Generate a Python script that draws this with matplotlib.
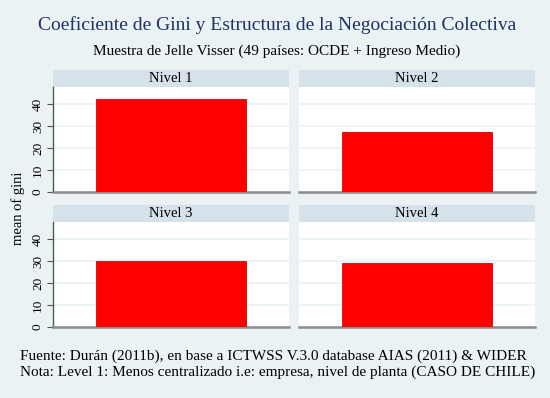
import matplotlib
matplotlib.use("Agg")
import matplotlib.pyplot as plt

# ---- data ----
panels = ["Nivel 1", "Nivel 2", "Nivel 3", "Nivel 4"]
gini_mean = [42.3, 27.3, 30.2, 29.0]
yticks = [0, 10, 20, 30, 40]

title = "Coeficiente de Gini y Estructura de la Negociación Colectiva"
subtitle = "Muestra de Jelle Visser (49 países: OCDE + Ingreso Medio)"
ylabel = "mean of gini"
notes = ["Fuente: Durán (2011b), en base a ICTWSS V.3.0 database AIAS (2011) & WIDER",
         "Nota: Level 1: Menos centralizado i.e: empresa, nivel de planta (CASO DE CHILE)"]

W, H = 550, 398
BG = "#EAF2F3"
STRIP = "#D6E2E9"
plt.rcParams["font.family"] = ["Liberation Serif", "DejaVu Serif"]

fig = plt.figure(figsize=(W / 100, H / 100), dpi=100, facecolor=BG)

def rect(x0, y0, x1, y1):
    # pixel coords (top-left origin) -> figure fraction
    return [x0 / W, 1 - y1 / H, (x1 - x0) / W, (y1 - y0) / H]

cols = [(53, 289), (299, 535)]
rows = [(70, 87.3, 191.7), (205, 222.3, 326.7)]

for i, (name, val) in enumerate(zip(panels, gini_mean)):
    r, c = divmod(i, 2)
    x0, x1 = cols[c]
    hy0, py0, py1 = rows[r]
    # header strip
    hax = fig.add_axes(rect(x0, hy0, x1, py0))
    hax.set_facecolor(STRIP)
    hax.set_xticks([]); hax.set_yticks([])
    for s in hax.spines.values():
        s.set_visible(False)
    hax.text(0.5, 0.5, name, ha="center", va="center", fontsize=10.5,
             transform=hax.transAxes, color="black")
    # plot area
    ax = fig.add_axes(rect(x0, py0, x1, py1))
    ax.set_facecolor("white")
    ax.bar([0], [val], width=0.637, color="#FF0000", edgecolor="#E00000", linewidth=0.6, zorder=3)
    ax.set_xlim(-0.5, 0.5)
    ax.set_ylim(0, 47.8)
    ax.set_yticks(yticks)
    ax.yaxis.grid(True, color=BG, linewidth=1.2, zorder=0)
    ax.set_axisbelow(True)
    ax.set_xticks([])
    for s in ["top", "right"]:
        ax.spines[s].set_visible(False)
    ax.spines["bottom"].set_color("#8C8C8C")
    ax.spines["bottom"].set_linewidth(1.8)
    if c == 0:
        ax.spines["left"].set_color("#555555")
        ax.spines["left"].set_linewidth(1.0)
        ax.tick_params(axis="y", length=4, width=0.8, color="#555555", labelsize=9.5, pad=2.5)
        for lab in ax.get_yticklabels():
            lab.set_rotation(90)
            lab.set_va("center")
    else:
        ax.spines["left"].set_visible(False)
        ax.tick_params(axis="y", length=0, labelleft=False)

fig.text(277 / W, 1 - 25 / H, title, ha="center", va="center", fontsize=14, color="#1E3264")
fig.text(277 / W, 1 - 51 / H, subtitle, ha="center", va="center", fontsize=11, color="black")
fig.text(18 / W, 1 - 208 / H, ylabel, ha="center", va="center", rotation=90, fontsize=10.5)
fig.text(20.5 / W, 1 - 356.5 / H, notes[0], ha="left", va="center", fontsize=11.0)
fig.text(20.5 / W, 1 - 372.5 / H, notes[1], ha="left", va="center", fontsize=11.0)

fig.savefig("out.png", dpi=100, facecolor=BG)
